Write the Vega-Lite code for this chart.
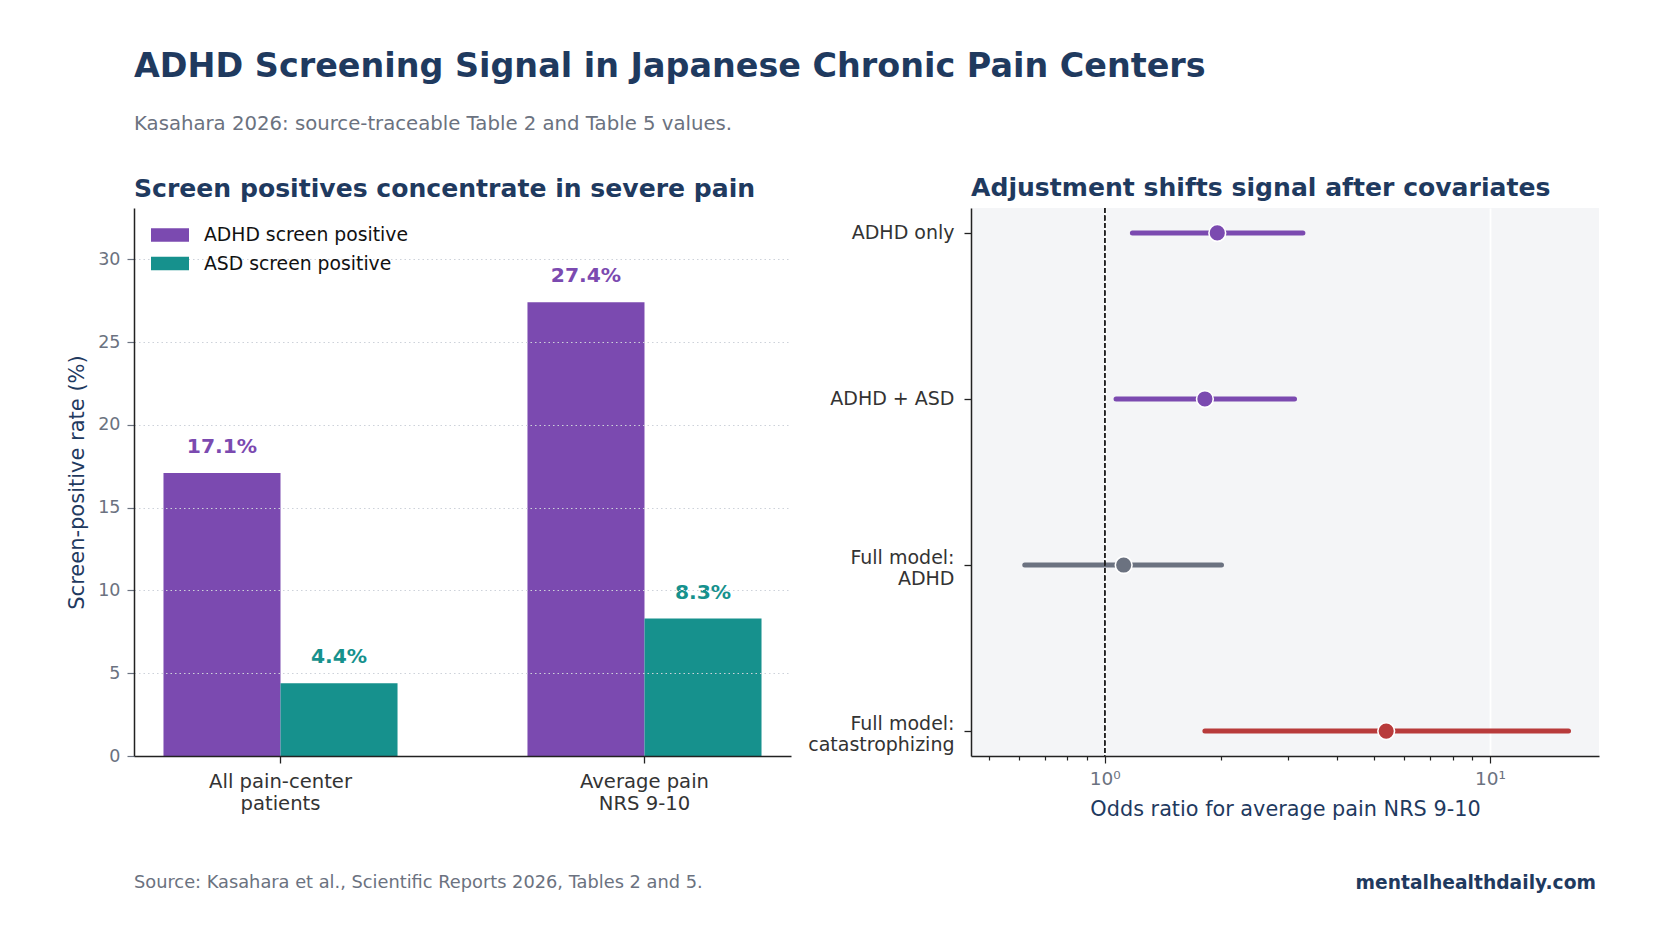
{
  "$schema": "https://vega.github.io/schema/vega-lite/v6.json",
  "background": "white",
  "padding": {"left": 66, "top": 50, "right": 20, "bottom": 20},
  "autosize": {"type": "pad"},
  "config": {
    "font": "DejaVu Sans",
    "view": {"stroke": null},
    "axis": {"labelFont": "DejaVu Sans", "titleFont": "DejaVu Sans"}
  },
  "datasets": {
    "bars": [
      {"group": "All pain-center|patients", "series": "ADHD screen positive", "rate": 17.1, "label": "17.1%"},
      {"group": "All pain-center|patients", "series": "ASD screen positive", "rate": 4.4, "label": "4.4%"},
      {"group": "Average pain|NRS 9-10", "series": "ADHD screen positive", "rate": 27.4, "label": "27.4%"},
      {"group": "Average pain|NRS 9-10", "series": "ASD screen positive", "rate": 8.3, "label": "8.3%"}
    ],
    "forest": [
      {"model": "ADHD only", "or": 1.96, "lo": 1.18, "hi": 3.27, "tone": "ADHD"},
      {"model": "ADHD + ASD", "or": 1.82, "lo": 1.07, "hi": 3.11, "tone": "ADHD"},
      {"model": "Full model:|ADHD", "or": 1.12, "lo": 0.62, "hi": 2.01, "tone": "ADHD (full model)"},
      {"model": "Full model:|catastrophizing", "or": 5.38, "lo": 1.82, "hi": 16.0, "tone": "Catastrophizing"}
    ]
  },
  "title": {
    "text": "ADHD Screening Signal in Japanese Chronic Pain Centers",
    "subtitle": "Kasahara 2026: source-traceable Table 2 and Table 5 values.",
    "anchor": "start",
    "frame": "group",
    "font": "DejaVu Sans",
    "fontSize": 33.4,
    "fontWeight": "bold",
    "color": "#1F3A5F",
    "subtitleFont": "DejaVu Sans",
    "subtitleFontSize": 19.7,
    "subtitleColor": "#6B7280",
    "subtitlePadding": 29,
    "offset": 42
  },
  "spacing": 16,
  "resolve": {"scale": {"color": "independent"}, "legend": {"color": "independent"}},
  "hconcat": [
    {
      "title": {
        "text": "Source: Kasahara et al., Scientific Reports 2026, Tables 2 and 5.",
        "orient": "bottom",
        "anchor": "start",
        "frame": "group",
        "font": "DejaVu Sans",
        "fontSize": 17.8,
        "fontWeight": "normal",
        "color": "#6B7280",
        "offset": 61
      },
      "vconcat": [
        {
          "width": 657,
          "height": 548,
          "title": {
            "text": "Screen positives concentrate in severe pain",
            "anchor": "start",
            "frame": "group",
            "font": "DejaVu Sans",
            "fontSize": 25.1,
            "fontWeight": "bold",
            "color": "#1F3A5F",
            "offset": 6
          },
          "data": {"name": "bars"},
          "encoding": {
            "x": {
              "field": "group",
              "type": "nominal",
              "sort": null,
              "scale": {"paddingInner": 0.357, "paddingOuter": 0.081},
              "axis": {
                "title": null,
                "labelExpr": "split(datum.label, '|')",
                "labelAngle": 0,
                "labelFontSize": 19.6,
                "labelColor": "#333333",
                "labelLineHeight": 22,
                "labelPadding": 9,
                "labelBaseline": "top",
                "domainColor": "#222222",
                "domainWidth": 1.5,
                "tickColor": "#222222",
                "tickSize": 7,
                "tickWidth": 1.3,
                "grid": false,
                "zindex": 1
              }
            },
            "xOffset": {
              "field": "series",
              "type": "nominal",
              "sort": ["ADHD screen positive", "ASD screen positive"],
              "scale": {"paddingInner": 0, "paddingOuter": 0}
            },
            "y": {
              "field": "rate",
              "type": "quantitative",
              "scale": {"domain": [0, 33.1], "nice": false},
              "axis": {
                "title": "Screen-positive rate (%)",
                "titleFontSize": 21,
                "titleFontWeight": "normal",
                "titleColor": "#1F3A5F",
                "titlePadding": 10.7,
                "values": [0, 5, 10, 15, 20, 25, 30],
                "labelFontSize": 17.5,
                "labelColor": "#6B7280",
                "labelPadding": 7,
                "tickColor": "#6B7280",
                "tickSize": 7,
                "tickWidth": 1.2,
                "domainColor": "#222222",
                "domainWidth": 1.5,
                "grid": true,
                "gridColor": "#CDD2DA",
                "gridDash": [1.5, 3],
                "gridWidth": 1.2,
                "zindex": 1
              }
            },
            "color": {
              "field": "series",
              "type": "nominal",
              "scale": {"domain": ["ADHD screen positive", "ASD screen positive"], "range": ["#7B4AB0", "#16918D"]},
              "legend": {
                "title": null,
                "orient": "none",
                "legendX": 26.5,
                "legendY": 17.5,
                "symbolType": "M-2,-0.7H2V0.7H-2Z",
                "symbolSize": 361,
                "symbolStrokeWidth": 0,
                "labelFontSize": 18.8,
                "labelColor": "#111111",
                "labelLimit": 500,
                "labelOffset": 24.5,
                "rowPadding": 8.5,
                "padding": 0
              }
            }
          },
          "layer": [
            {"mark": {"type": "bar"}},
            {
              "mark": {"type": "text", "dy": -26, "fontSize": 20.3, "fontWeight": "bold", "baseline": "middle", "align": "center"},
              "encoding": {"text": {"field": "label", "type": "nominal"}}
            }
          ]
        }
      ]
    },
    {
      "title": {
        "text": "mentalhealthdaily.com",
        "orient": "bottom",
        "anchor": "end",
        "frame": "bounds",
        "dx": -3,
        "font": "DejaVu Sans",
        "fontSize": 18.7,
        "fontWeight": "bold",
        "color": "#1F3A5F",
        "offset": 55
      },
      "vconcat": [
        {
          "width": 628,
          "height": 548,
          "view": {"fill": "#F4F5F7", "stroke": null},
          "title": {
            "text": "Adjustment shifts signal after covariates",
            "anchor": "start",
            "frame": "group",
            "font": "DejaVu Sans",
            "fontSize": 25.1,
            "fontWeight": "bold",
            "color": "#1F3A5F",
            "offset": 6
          },
          "data": {"name": "forest"},
          "encoding": {
            "y": {
              "field": "model",
              "type": "nominal",
              "sort": null,
              "scale": {"type": "point", "padding": 0.15},
              "axis": {
                "title": null,
                "labelExpr": "split(datum.label, '|')",
                "labelFontSize": 19,
                "labelColor": "#333333",
                "labelLineHeight": 21.5,
                "labelPadding": 10,
                "labelOffset": {"condition": {"test": "indexof(datum.value, '|') >= 0", "value": -8}, "value": 0},
                "tickColor": "#222222",
                "tickSize": 7,
                "tickWidth": 1.3,
                "domainColor": "#222222",
                "domainWidth": 1.5,
                "grid": false
              }
            },
            "color": {
              "field": "tone",
              "type": "nominal",
              "scale": {"domain": ["ADHD", "ADHD (full model)", "Catastrophizing"], "range": ["#7B4AB0", "#6B7280", "#B83B3B"]},
              "legend": null
            }
          },
          "layer": [
            {
              "mark": {"type": "rule", "strokeWidth": 5, "strokeCap": "round"},
              "encoding": {
                "x": {
                  "field": "lo",
                  "type": "quantitative",
                  "scale": {"type": "log", "domain": [0.4496, 19.2], "nice": false},
                  "axis": {
                    "title": "Odds ratio for average pain NRS 9-10",
                    "titleFontSize": 20.8,
                    "titleFontWeight": "normal",
                    "titleColor": "#1F3A5F",
                    "titlePadding": 12,
                    "values": [0.5, 0.6, 0.7, 0.8, 0.9, 1, 2, 3, 4, 5, 6, 7, 8, 9, 10],
                    "labelExpr": "datum.value == 1 ? '10⁰' : (datum.value == 10 ? '10¹' : '')",
                    "labelOverlap": false,
                    "labelFlush": false,
                    "labelFontSize": 18.5,
                    "labelColor": "#6B7280",
                    "labelPadding": 6,
                    "tickColor": "#222222",
                    "tickWidth": 1.2,
                    "tickSize": {"condition": {"test": "datum.value == 1 || datum.value == 10", "value": 7}, "value": 4},
                    "domainColor": "#222222",
                    "domainWidth": 1.5,
                    "grid": true,
                    "gridColor": "#FFFFFF",
                    "gridWidth": 1.8,
                    "gridOpacity": {"condition": {"test": "datum.value == 1 || datum.value == 10", "value": 1}, "value": 0}
                  }
                },
                "x2": {"field": "hi"}
              }
            },
            {
              "mark": {"type": "rule", "strokeDash": [5, 2.5], "strokeWidth": 1.4, "color": "#222222"},
              "encoding": {
                "x": {"datum": 1, "type": "quantitative"},
                "y": null,
                "color": null
              }
            },
            {
              "mark": {"type": "circle", "size": 280, "opacity": 1, "stroke": "white", "strokeWidth": 1.6},
              "encoding": {
                "x": {"field": "or", "type": "quantitative"}
              }
            }
          ]
        }
      ]
    }
  ]
}
